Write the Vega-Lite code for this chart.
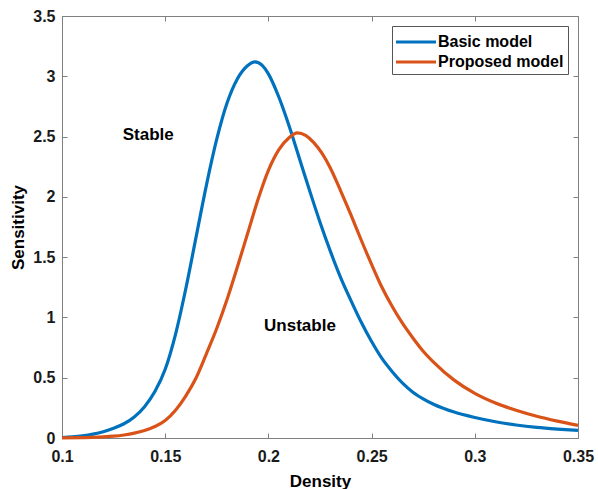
{
  "$schema": "https://vega.github.io/schema/vega-lite/v6.json",
  "autosize": {"type": "none"},
  "width": 516,
  "height": 422,
  "padding": {"left": 62, "top": 16, "right": 20, "bottom": 51},
  "background": "white",
  "config": {
    "font": "Liberation Sans",
    "view": {"stroke": "#808080", "strokeWidth": 1},
    "axis": {
      "grid": false,
      "domainColor": "#808080",
      "tickColor": "#808080",
      "labelColor": "#1a1a1a",
      "titleColor": "#000000",
      "labelFont": "Liberation Sans",
      "labelFontWeight": "bold",
      "labelFontSize": 16,
      "titleFont": "Liberation Sans",
      "titleFontWeight": "bold",
      "titleFontSize": 17
    },
    "legend": {
      "orient": "none",
      "legendX": 330,
      "legendY": 10,
      "direction": "vertical",
      "fillColor": "white",
      "strokeColor": "#555555",
      "padding": 4,
      "cornerRadius": 0,
      "symbolType": "M-2,0H2",
      "symbolSize": 400,
      "symbolOffset": 8,
      "symbolStrokeWidth": 3.2,
      "labelFont": "Liberation Sans",
      "labelFontWeight": "bold",
      "labelFontSize": 16,
      "labelColor": "#000000",
      "labelOffset": 10,
      "rowPadding": -3
    }
  },
  "datasets": {
    "curves": [
      {"density": 0.100, "sensitivity": 0.004, "model": "Basic model"},
      {"density": 0.105, "sensitivity": 0.009, "model": "Basic model"},
      {"density": 0.110, "sensitivity": 0.018, "model": "Basic model"},
      {"density": 0.115, "sensitivity": 0.032, "model": "Basic model"},
      {"density": 0.120, "sensitivity": 0.052, "model": "Basic model"},
      {"density": 0.125, "sensitivity": 0.080, "model": "Basic model"},
      {"density": 0.130, "sensitivity": 0.118, "model": "Basic model"},
      {"density": 0.135, "sensitivity": 0.175, "model": "Basic model"},
      {"density": 0.140, "sensitivity": 0.260, "model": "Basic model"},
      {"density": 0.145, "sensitivity": 0.385, "model": "Basic model"},
      {"density": 0.150, "sensitivity": 0.570, "model": "Basic model"},
      {"density": 0.155, "sensitivity": 0.860, "model": "Basic model"},
      {"density": 0.160, "sensitivity": 1.240, "model": "Basic model"},
      {"density": 0.165, "sensitivity": 1.670, "model": "Basic model"},
      {"density": 0.170, "sensitivity": 2.100, "model": "Basic model"},
      {"density": 0.175, "sensitivity": 2.480, "model": "Basic model"},
      {"density": 0.180, "sensitivity": 2.780, "model": "Basic model"},
      {"density": 0.185, "sensitivity": 2.980, "model": "Basic model"},
      {"density": 0.190, "sensitivity": 3.090, "model": "Basic model"},
      {"density": 0.1935, "sensitivity": 3.120, "model": "Basic model"},
      {"density": 0.197, "sensitivity": 3.090, "model": "Basic model"},
      {"density": 0.200, "sensitivity": 3.020, "model": "Basic model"},
      {"density": 0.205, "sensitivity": 2.830, "model": "Basic model"},
      {"density": 0.210, "sensitivity": 2.590, "model": "Basic model"},
      {"density": 0.215, "sensitivity": 2.320, "model": "Basic model"},
      {"density": 0.220, "sensitivity": 2.050, "model": "Basic model"},
      {"density": 0.225, "sensitivity": 1.790, "model": "Basic model"},
      {"density": 0.230, "sensitivity": 1.550, "model": "Basic model"},
      {"density": 0.235, "sensitivity": 1.330, "model": "Basic model"},
      {"density": 0.240, "sensitivity": 1.140, "model": "Basic model"},
      {"density": 0.245, "sensitivity": 0.960, "model": "Basic model"},
      {"density": 0.250, "sensitivity": 0.800, "model": "Basic model"},
      {"density": 0.255, "sensitivity": 0.660, "model": "Basic model"},
      {"density": 0.260, "sensitivity": 0.550, "model": "Basic model"},
      {"density": 0.265, "sensitivity": 0.455, "model": "Basic model"},
      {"density": 0.270, "sensitivity": 0.380, "model": "Basic model"},
      {"density": 0.275, "sensitivity": 0.325, "model": "Basic model"},
      {"density": 0.280, "sensitivity": 0.280, "model": "Basic model"},
      {"density": 0.290, "sensitivity": 0.215, "model": "Basic model"},
      {"density": 0.300, "sensitivity": 0.170, "model": "Basic model"},
      {"density": 0.310, "sensitivity": 0.135, "model": "Basic model"},
      {"density": 0.320, "sensitivity": 0.108, "model": "Basic model"},
      {"density": 0.330, "sensitivity": 0.088, "model": "Basic model"},
      {"density": 0.340, "sensitivity": 0.074, "model": "Basic model"},
      {"density": 0.350, "sensitivity": 0.063, "model": "Basic model"},
      {"density": 0.100, "sensitivity": 0.001, "model": "Proposed model"},
      {"density": 0.110, "sensitivity": 0.003, "model": "Proposed model"},
      {"density": 0.115, "sensitivity": 0.005, "model": "Proposed model"},
      {"density": 0.120, "sensitivity": 0.009, "model": "Proposed model"},
      {"density": 0.125, "sensitivity": 0.015, "model": "Proposed model"},
      {"density": 0.130, "sensitivity": 0.025, "model": "Proposed model"},
      {"density": 0.135, "sensitivity": 0.040, "model": "Proposed model"},
      {"density": 0.140, "sensitivity": 0.062, "model": "Proposed model"},
      {"density": 0.145, "sensitivity": 0.095, "model": "Proposed model"},
      {"density": 0.150, "sensitivity": 0.145, "model": "Proposed model"},
      {"density": 0.155, "sensitivity": 0.230, "model": "Proposed model"},
      {"density": 0.160, "sensitivity": 0.350, "model": "Proposed model"},
      {"density": 0.165, "sensitivity": 0.500, "model": "Proposed model"},
      {"density": 0.170, "sensitivity": 0.700, "model": "Proposed model"},
      {"density": 0.175, "sensitivity": 0.910, "model": "Proposed model"},
      {"density": 0.180, "sensitivity": 1.150, "model": "Proposed model"},
      {"density": 0.185, "sensitivity": 1.420, "model": "Proposed model"},
      {"density": 0.190, "sensitivity": 1.700, "model": "Proposed model"},
      {"density": 0.195, "sensitivity": 1.980, "model": "Proposed model"},
      {"density": 0.200, "sensitivity": 2.220, "model": "Proposed model"},
      {"density": 0.205, "sensitivity": 2.390, "model": "Proposed model"},
      {"density": 0.210, "sensitivity": 2.490, "model": "Proposed model"},
      {"density": 0.214, "sensitivity": 2.530, "model": "Proposed model"},
      {"density": 0.218, "sensitivity": 2.510, "model": "Proposed model"},
      {"density": 0.222, "sensitivity": 2.450, "model": "Proposed model"},
      {"density": 0.226, "sensitivity": 2.360, "model": "Proposed model"},
      {"density": 0.230, "sensitivity": 2.240, "model": "Proposed model"},
      {"density": 0.235, "sensitivity": 2.050, "model": "Proposed model"},
      {"density": 0.240, "sensitivity": 1.850, "model": "Proposed model"},
      {"density": 0.245, "sensitivity": 1.640, "model": "Proposed model"},
      {"density": 0.250, "sensitivity": 1.440, "model": "Proposed model"},
      {"density": 0.255, "sensitivity": 1.250, "model": "Proposed model"},
      {"density": 0.260, "sensitivity": 1.090, "model": "Proposed model"},
      {"density": 0.265, "sensitivity": 0.950, "model": "Proposed model"},
      {"density": 0.270, "sensitivity": 0.830, "model": "Proposed model"},
      {"density": 0.275, "sensitivity": 0.720, "model": "Proposed model"},
      {"density": 0.280, "sensitivity": 0.630, "model": "Proposed model"},
      {"density": 0.290, "sensitivity": 0.480, "model": "Proposed model"},
      {"density": 0.300, "sensitivity": 0.370, "model": "Proposed model"},
      {"density": 0.310, "sensitivity": 0.290, "model": "Proposed model"},
      {"density": 0.320, "sensitivity": 0.230, "model": "Proposed model"},
      {"density": 0.330, "sensitivity": 0.180, "model": "Proposed model"},
      {"density": 0.340, "sensitivity": 0.140, "model": "Proposed model"},
      {"density": 0.350, "sensitivity": 0.105, "model": "Proposed model"}
    ],
    "notes": [
      {"density": 0.1418, "sensitivity": 2.51, "label": "Stable"},
      {"density": 0.2153, "sensitivity": 0.925, "label": "Unstable"}
    ]
  },
  "layer": [
    {
      "data": {"name": "curves"},
      "mark": {"type": "line", "strokeWidth": 3.2, "interpolate": "monotone", "strokeCap": "butt"},
      "encoding": {
        "x": {
          "field": "density", "type": "quantitative",
          "scale": {"domain": [0.1, 0.35], "nice": false, "zero": false},
          "axis": {
            "orient": "bottom", "title": "Density", "format": "~g",
            "values": [0.1, 0.15, 0.2, 0.25, 0.3, 0.35],
            "tickSize": -5, "labelPadding": 15, "labelFlush": false,
            "titleX": 258, "titleY": 43, "titleBaseline": "middle", "titleAlign": "center"
          }
        },
        "y": {
          "field": "sensitivity", "type": "quantitative",
          "scale": {"domain": [0, 3.5], "nice": false, "zero": true},
          "axis": {
            "orient": "left", "title": "Sensitivity", "format": "~g",
            "values": [0, 0.5, 1, 1.5, 2, 2.5, 3, 3.5],
            "tickSize": -5, "labelPadding": 12, "labelFlush": false,
            "titleX": -44, "titleY": 211, "titleAngle": -90,
            "titleBaseline": "middle", "titleAlign": "center"
          }
        },
        "color": {
          "field": "model", "type": "nominal",
          "scale": {"domain": ["Basic model", "Proposed model"], "range": ["#0072BD", "#D95319"]},
          "legend": {"title": null}
        }
      }
    },
    {
      "data": {"name": "notes"},
      "mark": {"type": "text", "font": "Liberation Sans", "fontWeight": "bold", "fontSize": 17, "color": "#000000", "align": "center", "baseline": "middle"},
      "encoding": {
        "x": {
          "field": "density", "type": "quantitative",
          "scale": {"domain": [0.1, 0.35], "nice": false, "zero": false},
          "axis": {
            "orient": "top", "title": null, "labels": false, "domain": false,
            "values": [0.1, 0.15, 0.2, 0.25, 0.3, 0.35], "tickSize": -5
          }
        },
        "y": {
          "field": "sensitivity", "type": "quantitative",
          "scale": {"domain": [0, 3.5], "nice": false, "zero": true},
          "axis": {
            "orient": "right", "title": null, "labels": false, "domain": false,
            "values": [0, 0.5, 1, 1.5, 2, 2.5, 3, 3.5], "tickSize": -5
          }
        },
        "text": {"field": "label", "type": "nominal"}
      }
    }
  ],
  "resolve": {"axis": {"x": "independent", "y": "independent"}}
}
